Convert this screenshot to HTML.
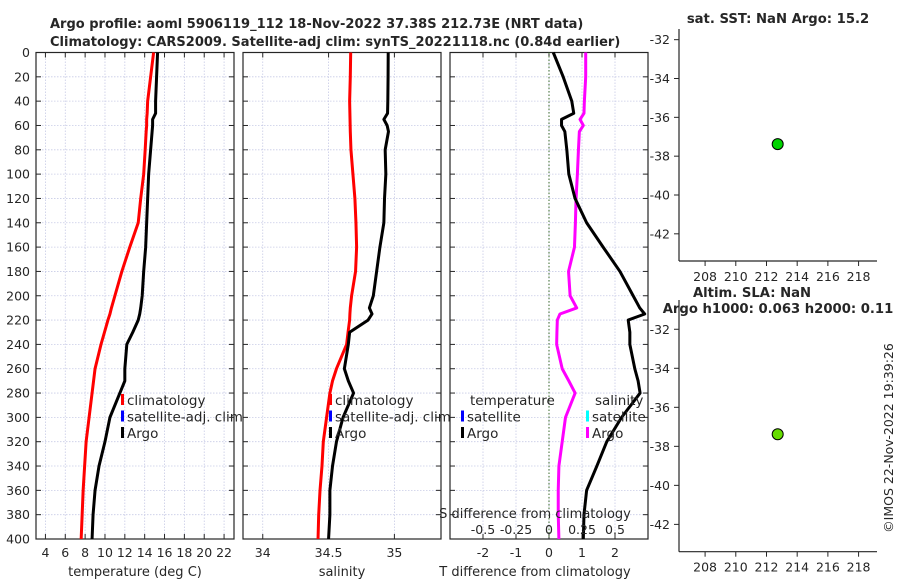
<!DOCTYPE html>
<html><head><meta charset="utf-8"><style>
body{margin:0;background:#fff;font-family:"Liberation Sans","DejaVu Sans",sans-serif;}
svg text{font-family:"DejaVu Sans","Liberation Sans",sans-serif;fill:#262626;}
</style></head><body>
<svg id="c" width="900" height="580" viewBox="0 0 900 580" xmlns="http://www.w3.org/2000/svg"></svg>
<script>
const depths=[0,20,40,50,55,60,65,80,100,120,140,160,180,200,210,215,220,230,240,260,270,280,300,320,340,360,380,400];
const tempClim=[14.9,14.6,14.3,14.25,14.2,14.2,14.15,14.05,13.9,13.6,13.35,12.5,11.7,11.0,10.65,10.5,10.3,9.95,9.6,9.0,8.85,8.7,8.4,8.1,7.95,7.8,7.7,7.6];
const tempArgo=[15.3,15.2,15.1,15.1,14.8,14.8,14.75,14.6,14.4,14.3,14.2,14.1,13.9,13.75,13.6,13.5,13.35,12.8,12.2,12.0,12.0,11.5,10.5,10.0,9.4,9.0,8.8,8.7];
const salClim=[34.668,34.665,34.66,34.662,34.663,34.664,34.665,34.67,34.685,34.70,34.708,34.713,34.705,34.675,34.665,34.662,34.66,34.648,34.637,34.56,34.53,34.51,34.485,34.46,34.45,34.435,34.425,34.42];
const salArgo=[34.953,34.952,34.95,34.948,34.92,34.945,34.955,34.93,34.935,34.925,34.92,34.89,34.865,34.84,34.81,34.83,34.80,34.66,34.65,34.62,34.65,34.69,34.61,34.56,34.53,34.51,34.51,34.50];
const tDiff=[0.13,0.43,0.69,0.75,0.38,0.38,0.48,0.54,0.6,0.79,1.14,1.64,2.15,2.55,2.75,2.9,2.4,2.45,2.45,2.6,2.7,2.76,2.2,1.75,1.45,1.14,1.06,1.04];
const sDiff=[0.278,0.278,0.268,0.265,0.235,0.26,0.23,0.223,0.215,0.205,0.20,0.193,0.148,0.16,0.21,0.083,0.063,0.06,0.058,0.1,0.15,0.198,0.125,0.1,0.075,0.07,0.07,0.075];
const tempTicks=[4,6,8,10,12,14,16,18,20,22];
const salTicks=[34,34.5,35];
const tdTicks=[-2,-1,0,1,2];
const sdTicks=[-0.5,-0.25,0,0.25,0.5];
const depthTicks=[0,20,40,60,80,100,120,140,160,180,200,220,240,260,280,300,320,340,360,380,400];
const lonTicks=[208,210,212,214,216,218];
const latTicks=[-32,-34,-36,-38,-40,-42];
const floatLon=[212.73];
const floatLat=[-37.38];

const NS="http://www.w3.org/2000/svg";
const svg=document.getElementById('c');
function el(tag,attrs,parent,txt){const e=document.createElementNS(NS,tag);for(const k in attrs)e.setAttribute(k,attrs[k]);if(txt!==undefined)e.textContent=txt;(parent||svg).appendChild(e);return e;}
const yTop=52.5,yBot=539;
const yD=d=>yTop+(d/400)*(yBot-yTop);
function lin(d0,d1,r0,r1){return v=>r0+(v-d0)/(d1-d0)*(r1-r0);}

function panel(name,x0,x1,xs,ticks,fmt,ylabels){
  const g=el('g',{},svg);
  depthTicks.forEach(d=>{el('line',{x1:x0,x2:x1,y1:yD(d),y2:yD(d),stroke:'#c8cbe6','stroke-width':0.8,'stroke-dasharray':'1.5,1.5'},g);});
  ticks.forEach(t=>{const x=xs(t);el('line',{x1:x,x2:x,y1:yTop,y2:yBot,stroke:'#c8cbe6','stroke-width':0.8,'stroke-dasharray':'1.5,1.5'},g);});
  depthTicks.forEach(d=>{el('line',{x1:x0,x2:x0+5,y1:yD(d),y2:yD(d),stroke:'#262626'},g);el('line',{x1:x1-5,x2:x1,y1:yD(d),y2:yD(d),stroke:'#262626'},g);
    if(ylabels){const t=el('text',{x:x0-6,y:yD(d)+4.5,'text-anchor':'end','font-size':12.5},g,String(d));}});
  ticks.forEach(t=>{const x=xs(t);el('line',{x1:x,x2:x,y1:yBot-5,y2:yBot,stroke:'#262626'},g);el('line',{x1:x,x2:x,y1:yTop,y2:yTop+5,stroke:'#262626'},g);
    const tx=el('text',{x:x,y:557,'text-anchor':'middle','font-size':12.5},g,fmt(t));});
  el('rect',{x:x0,y:yTop,width:x1-x0,height:yBot-yTop,fill:'none',stroke:'#262626','stroke-width':1.2},g);
  return g;
}
function line(g,xs,vals,color,name){const p=el('polyline',{points:vals.map((v,i)=>xs(v)+','+yD(depths[i])).join(' '),fill:'none',stroke:color,'stroke-width':3,'stroke-linejoin':'round'},g);}

// Title
const t1=el('text',{x:50,y:28,'text-anchor':'start','font-size':13,'font-weight':'bold',fill:'#000'},svg,'Argo profile: aoml 5906119_112 18-Nov-2022 37.38S 212.73E (NRT data)');

const t2=el('text',{x:50,y:46,'text-anchor':'start','font-size':13,'font-weight':'bold',fill:'#000'},svg,'Climatology: CARS2009. Satellite-adj clim: synTS_20221118.nc (0.84d earlier)');


// Panel 1 temperature
const xT=lin(3.05,23,36,234);
const g1=panel('temperature-panel',36,234,xT,tempTicks,String,true);
line(g1,xT,tempClim,'#ff0000','temp-climatology-line');
line(g1,xT,tempArgo,'#000','temp-argo-line');
let lb=el('text',{x:135,y:576,'text-anchor':'middle','font-size':13},svg,'temperature (deg C)');

// Panel 2 salinity
const xS=lin(33.85,35.354,243,441);
const g2=panel('salinity-panel',243,441,xS,salTicks,String,false);
line(g2,xS,salClim,'#ff0000','sal-climatology-line');
line(g2,xS,salArgo,'#000','sal-argo-line');
lb=el('text',{x:342,y:576,'text-anchor':'middle','font-size':13},svg,'salinity');

function legend(x,y,items){items.forEach((it,i)=>{const g=el('g',{},svg);
  el('rect',{x:x,y:y+i*16.5-11,width:3,height:11,fill:it[0]},g);el('text',{x:x+6,y:y+i*16.5,'font-size':13.5},g,it[1]);});}
legend(121,405,[['#ff0000','climatology'],['#0000ff','satellite-adj. clim'],['#000','Argo']]);
legend(329,405,[['#ff0000','climatology'],['#0000ff','satellite-adj. clim'],['#000','Argo']]);

// Panel 3 differences
const xD=lin(-3,3,450,648);
const xSD=v=>xD(v*4);
const g3=panel('difference-panel',450,648,xD,tdTicks,String,false);
el('line',{x1:xD(0),x2:xD(0),y1:yTop,y2:yBot,stroke:'#3a6a2a','stroke-width':1,'stroke-dasharray':'1.5,2'},g3);
line(g3,xSD,sDiff,'#ff00ff','sal-diff-argo-line');
line(g3,xD,tDiff,'#000','temp-diff-argo-line');
lb=el('text',{x:535,y:576,'text-anchor':'middle','font-size':13},svg,'T difference from climatology');
lb=el('text',{x:535,y:518,'text-anchor':'middle','font-size':13},svg,'S difference from climatology');
sdTicks.forEach(s=>{const t=el('text',{x:xSD(s),y:534,'text-anchor':'middle','font-size':12.5},svg,String(s));});
lb=el('text',{x:470,y:405,'font-size':13.5},svg,'temperature');
lb=el('text',{x:595,y:405,'font-size':13.5},svg,'salinity');
legend(461,421.5,[['#0000ff','satellite'],['#000','Argo']]);
legend(586,421.5,[['#00ffff','satellite'],['#ff00ff','Argo']]);

// Maps
function map(name,yt,yb,latTop,latBot,color){
  const g=el('g',{},svg);
  const xL=lin(206.3,219.2,679,877), yL=lin(latTop,latBot,yt,yb);
  el('line',{x1:679,x2:679,y1:yt,y2:yb,stroke:'#262626','stroke-width':1.2},g);
  el('line',{x1:679,x2:877,y1:yb,y2:yb,stroke:'#262626','stroke-width':1.2},g);
  latTicks.forEach(v=>{const y=yL(v);el('line',{x1:674,x2:679,y1:y,y2:y,stroke:'#262626'},g);
    const t=el('text',{x:670,y:y+4.5,'text-anchor':'end','font-size':12.5},g,String(v));});
  lonTicks.forEach(v=>{const x=xL(v);el('line',{x1:x,x2:x,y1:yb,y2:yb+5,stroke:'#262626'},g);
    const t=el('text',{x:x,y:yb+20,'text-anchor':'middle','font-size':12.5},g,String(v));});
  floatLon.forEach((lo,i)=>{const c=el('circle',{cx:xL(lo),cy:yL(floatLat[i]),r:5.5,fill:color,stroke:'#000','stroke-width':1},g);});
}
map('sst-map',29,261,-31.45,-43.4,'#00d400');
map('sla-map',300,551.7,-30.5,-43.4,'#66dd00');
lb=el('text',{x:778,y:23,'text-anchor':'middle','font-size':13.2,'font-weight':'bold',fill:'#000'},svg,'sat. SST: NaN Argo: 15.2');
lb=el('text',{x:752,y:297,'text-anchor':'middle','font-size':13.2,'font-weight':'bold',fill:'#000'},svg,'Altim. SLA: NaN');
lb=el('text',{x:778,y:313,'text-anchor':'middle','font-size':13.2,'font-weight':'bold',fill:'#000'},svg,'Argo h1000: 0.063 h2000: 0.11');
lb=el('text',{x:0,y:0,'text-anchor':'middle','font-size':12.5,transform:'translate(893,438) rotate(-90)'},svg,'©IMOS 22-Nov-2022 19:39:26');
</script>
</body></html>
